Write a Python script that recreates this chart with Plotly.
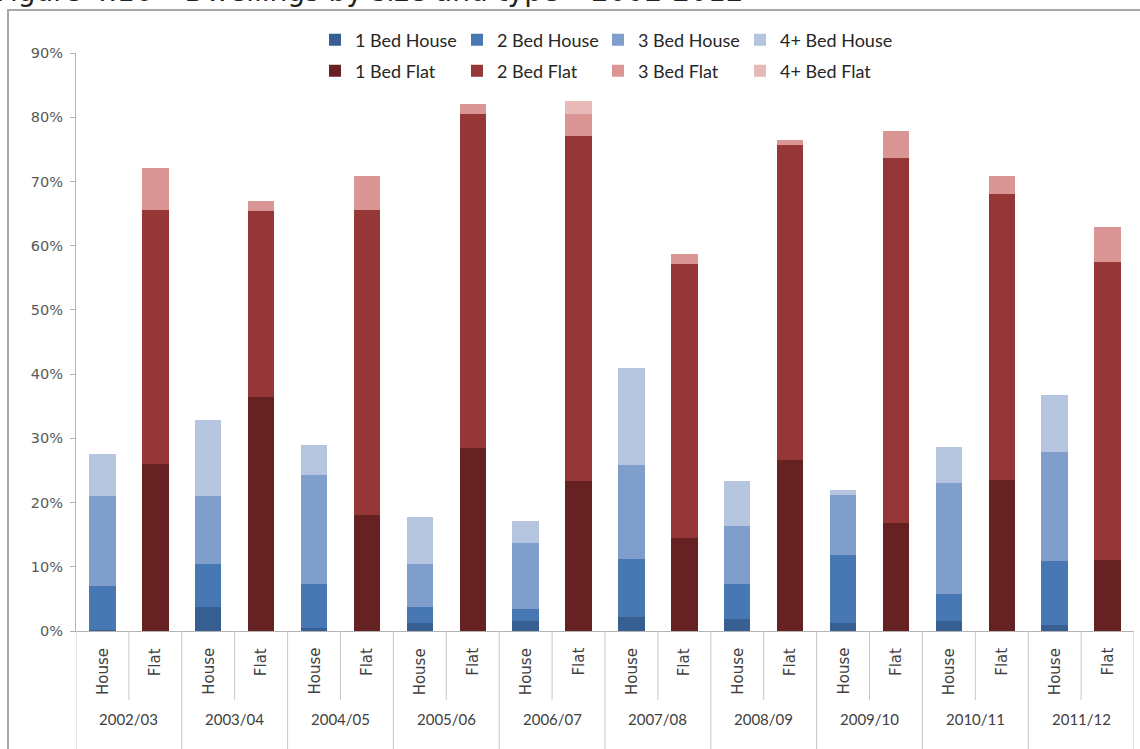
import plotly.graph_objects as go

# Financial years and dwelling types on the x axis
years = ["2002/03", "2003/04", "2004/05", "2005/06", "2006/07",
         "2007/08", "2008/09", "2009/10", "2010/11", "2011/12"]
types = ["House", "Flat"]

# Share of completions (%) by bedroom count, houses
house_1bed = [0.2, 3.8, 0.5, 1.3, 1.5, 2.2, 1.9, 1.3, 1.5, 0.9]
house_2bed = [6.8, 6.7, 6.8, 2.5, 2.0, 9.0, 5.4, 10.5, 4.3, 10.0]
house_3bed = [14.0, 10.5, 17.0, 6.6, 10.2, 14.7, 9.0, 9.3, 17.3, 16.9]
house_4bed = [6.6, 11.8, 4.7, 7.3, 3.4, 15.1, 7.0, 0.8, 5.6, 9.0]

# Share of completions (%) by bedroom count, flats
flat_1bed = [26.0, 36.4, 18.1, 28.5, 23.3, 14.5, 26.6, 16.8, 23.5, 11.1]
flat_2bed = [39.6, 29.0, 47.5, 52.0, 53.7, 42.7, 49.0, 56.9, 44.5, 46.4]
flat_3bed = [6.5, 1.5, 5.2, 1.5, 3.5, 1.5, 0.8, 4.2, 2.9, 5.4]
flat_4bed = [0.0, 0.0, 0.0, 0.0, 2.1, 0.0, 0.0, 0.0, 0.0, 0.0]

y_ticks = [0, 10, 20, 30, 40, 50, 60, 70, 80, 90]
y_tick_text = [f"{v}%" for v in y_ticks]

title_text = "Figure 4.16 \u2013 Dwellings by size and type \u2013 2002-2012"

house_names = ["1 Bed House", "2 Bed House", "3 Bed House", "4+ Bed House"]
flat_names = ["1 Bed Flat", "2 Bed Flat", "3 Bed Flat", "4+ Bed Flat"]
house_colors = ["#375f92", "#4878b4", "#7f9ecb", "#b5c5e0"]
flat_colors = ["#662223", "#963737", "#d99695", "#e7b9b9"]

# Page geometry (pixels)
W, H = 1140, 749
L, R, T, B = 76, 6, 53, 118
PW, PH = W - L - R, H - T - B


def px_x(px):
    return (px - L) / PW


def px_y(py):
    return (H - B - py) / PH


cats = [f"{y} {t}" for y in years for t in types]
house_x = [f"{y} House" for y in years]
flat_x = [f"{y} Flat" for y in years]

# one legend box per key entry: 4 columns, houses on row 1, flats on row 2
legend_cols_px = [315, 457, 598, 740]
legend_rows_px = [40, 71]

legend_common = dict(orientation="h", xref="container", yref="container",
                     xanchor="left", yanchor="middle",
                     bgcolor="rgba(0,0,0,0)",
                     font=dict(family="Lato", size=18, color="#262626"),
                     itemclick=False, itemdoubleclick=False)

fig = go.Figure()
legend_layouts = {}
series = [
    (house_names, [house_1bed, house_2bed, house_3bed, house_4bed],
     house_colors, house_x),
    (flat_names, [flat_1bed, flat_2bed, flat_3bed, flat_4bed],
     flat_colors, flat_x),
]
for row, (names, values, colors, xs) in enumerate(series):
    for col, (name, vals, color) in enumerate(zip(names, values, colors)):
        n = row * 4 + col + 1
        lid = "legend" if n == 1 else f"legend{n}"
        fig.add_trace(go.Bar(x=xs, y=vals, name=name, marker_color=color,
                             marker_line_width=0, legend=lid))
        legend_layouts[lid] = dict(x=legend_cols_px[col] / W,
                                   y=1 - legend_rows_px[row] / H,
                                   **legend_common)

axis_grey = "#b3b3b3"

shapes = []
# category dividers below the x axis
for i in range(len(cats) + 1):
    group_edge = (i % 2 == 0)
    shapes.append(dict(type="line", xref="x", yref="paper",
                       x0=i - 0.5, x1=i - 0.5,
                       y0=0, y1=px_y(760 if group_edge else 700),
                       line=dict(color="#c8c8c8", width=1)))
# outer chart border
shapes.append(dict(type="rect", xref="paper", yref="paper",
                   x0=px_x(8), x1=px_x(1160), y0=px_y(10), y1=px_y(770),
                   line=dict(color="#a8a8a8", width=2), layer="below"))

annotations = []
for c in cats:
    t = c.split(" ")[1]
    annotations.append(dict(x=c, xref="x", y=px_y(646), yref="paper",
                            text=t, textangle=-90, showarrow=False,
                            xanchor="center", yanchor="top",
                            font=dict(family="DejaVu Sans", size=15,
                                      color="#404040")))
for i, yr in enumerate(years):
    annotations.append(dict(x=2 * i + 0.5, xref="x", y=px_y(719), yref="paper",
                            text=yr, showarrow=False,
                            xanchor="center", yanchor="middle",
                            font=dict(family="Lato", size=15,
                                      color="#404040")))
annotations.append(dict(x=px_x(-6), xref="paper", y=px_y(10), yref="paper",
                        text=title_text, showarrow=False,
                        xanchor="left", yanchor="bottom",
                        font=dict(family="DejaVu Sans", size=28,
                                  color="#222222")))

fig.update_layout(
    width=W, height=H,
    margin=dict(l=L, r=R, t=T, b=B, autoexpand=False),
    paper_bgcolor="white", plot_bgcolor="white",
    barmode="stack", bargap=0.5,
    showlegend=True,
    xaxis=dict(type="category", categoryorder="array", categoryarray=cats,
               range=[-0.5, len(cats) - 0.5],
               showticklabels=False, ticks="", showgrid=False,
               showline=True, linecolor=axis_grey, linewidth=1,
               zeroline=False),
    yaxis=dict(range=[0, 90], tickmode="array", tickvals=y_ticks,
               ticktext=y_tick_text,
               showgrid=False, zeroline=False,
               showline=True, linecolor=axis_grey, linewidth=1,
               ticks="outside", ticklen=5, tickcolor=axis_grey,
               ticklabelstandoff=4,
               tickfont=dict(family="DejaVu Sans", size=14.5,
                             color="#595959")),
    shapes=shapes,
    annotations=annotations,
    **legend_layouts,
)

fig.write_html("out.html")
